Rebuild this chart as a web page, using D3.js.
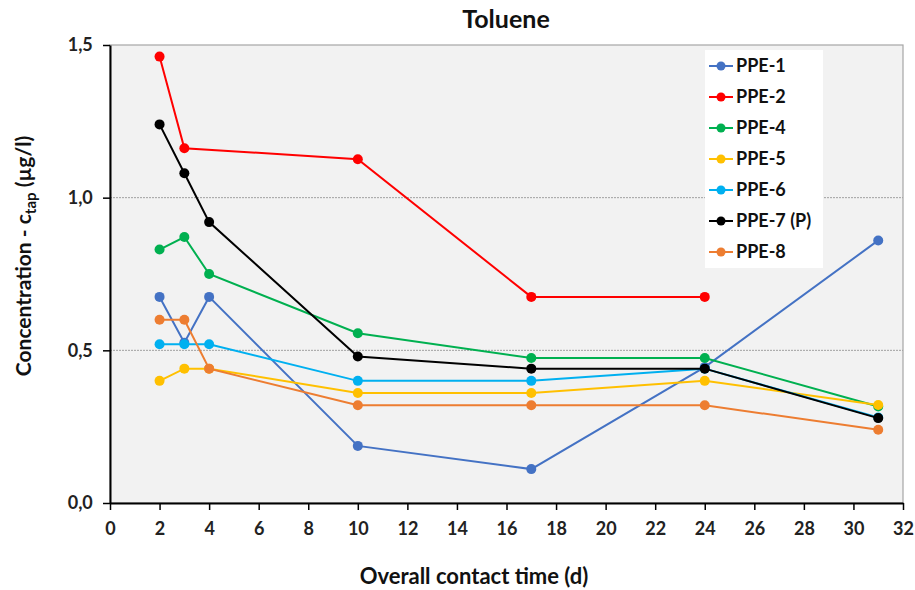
<!DOCTYPE html>
<html>
<head>
<meta charset="utf-8">
<script src="https://cdn.jsdelivr.net/npm/d3@7"></script>
<style>
  body { margin: 0; background: #fff; }
  text { font-family: Lato, "Open Sans", sans-serif; }
</style>
</head>
<body>
<div id="chart"></div>
<script>
// data
const days = [2, 3, 4, 10, 17, 24, 31];
const seriesNames = ["PPE-1", "PPE-2", "PPE-4", "PPE-5", "PPE-6", "PPE-7 (P)", "PPE-8"];
const seriesColors = ["#4472C4", "#FF0000", "#00B050", "#FFC000", "#00B0F0", "#000000", "#ED7D31"];
const ppe1 = [0.675, 0.525, 0.675, 0.187, 0.111, 0.445, 0.86];
const ppe2 = [1.462, 1.162, null, 1.126, 0.675, 0.675, null];
const ppe4 = [0.83, 0.871, 0.75, 0.556, 0.475, 0.475, 0.316];
const ppe5 = [0.40, 0.44, 0.44, 0.36, 0.36, 0.40, 0.321];
const ppe6 = [0.52, 0.52, 0.52, 0.40, 0.40, 0.44, 0.28];
const ppe7 = [1.24, 1.08, 0.92, 0.48, 0.44, 0.44, 0.278];
const ppe8 = [0.60, 0.60, 0.44, 0.32, 0.32, 0.32, 0.24];
const seriesValues = [ppe1, ppe2, ppe4, ppe5, ppe6, ppe7, ppe8];
const xTicks = d3.range(0, 33, 2);
const yTicks = [0, 0.5, 1.0, 1.5];

const width = 915, height = 590;
const margin = { top: 45, right: 12, bottom: 87, left: 110 };
const w = width - margin.left - margin.right;
const h = height - margin.top - margin.bottom;

const svg = d3.select("#chart").append("svg")
    .attr("width", width)
    .attr("height", height);

const g = svg.append("g")
    .attr("transform", `translate(${margin.left}, ${margin.top})`);

const x = d3.scaleLinear().domain([0, 32]).range([0, w]);
const y = d3.scaleLinear().domain([0, 1.5]).range([h, 0]);

// plot background + border
g.append("rect")
    .attr("width", w).attr("height", h)
    .attr("fill", "#f2f2f2")
    .attr("stroke", "#a6a6a6")
    .attr("stroke-width", 1.2);

// gridlines
g.selectAll(".grid")
    .data([0.5, 1.0])
    .enter().append("line")
    .attr("x1", 0).attr("x2", w)
    .attr("y1", d => y(d)).attr("y2", d => y(d))
    .attr("stroke", "#a0a0a0")
    .attr("stroke-width", 1)
    .attr("stroke-dasharray", "2,1");

// axes
const xAxis = d3.axisBottom(x).tickValues(xTicks).tickSize(7).tickSizeOuter(0);
const yAxis = d3.axisLeft(y).tickValues(yTicks).tickSize(7).tickSizeOuter(0)
    .tickFormat(d => d3.format(".1f")(d).replace(".", ","));

const xg = g.append("g").attr("transform", `translate(0, ${h})`).call(xAxis);
const yg = g.append("g").call(yAxis);

[xg, yg].forEach(a => {
    a.select(".domain").attr("stroke", "#000").attr("stroke-width", 2);
    a.selectAll(".tick line").attr("stroke", "#000").attr("stroke-width", 1.5);
    a.selectAll(".tick text")
        .attr("fill", "#222")
        .style("font-size", "18px")
        .style("font-weight", "700");
});
xg.selectAll(".tick text").attr("dy", "1.2em");
yg.selectAll(".tick text").attr("dx", "-0.4em");

// lines and points (gaps are skipped, not broken)
const line = d3.line()
    .x(d => x(d[0]))
    .y(d => y(d[1]));

seriesValues.forEach((vals, i) => {
    const pts = days.map((d, j) => [d, vals[j]]).filter(p => p[1] !== null);
    g.append("path")
        .datum(pts)
        .attr("fill", "none")
        .attr("stroke", seriesColors[i])
        .attr("stroke-width", 2)
        .attr("d", line);
    g.selectAll(".pt" + i)
        .data(pts)
        .enter().append("circle")
        .attr("cx", p => x(p[0]))
        .attr("cy", p => y(p[1]))
        .attr("r", 5)
        .attr("fill", seriesColors[i]);
});

// legend
const legend = svg.append("g").attr("transform", "translate(705, 50)");
legend.append("rect")
    .attr("width", 118).attr("height", 218)
    .attr("fill", "#fff");
seriesNames.forEach((name, i) => {
    const ly = 16 + i * 31;
    legend.append("line")
        .attr("x1", 4).attr("x2", 28)
        .attr("y1", ly).attr("y2", ly)
        .attr("stroke", seriesColors[i]).attr("stroke-width", 2);
    legend.append("circle")
        .attr("cx", 16).attr("cy", ly).attr("r", 4.5)
        .attr("fill", seriesColors[i]);
    legend.append("text")
        .attr("x", 31).attr("y", ly)
        .attr("dy", "0.35em")
        .style("font-size", "18px")
        .style("font-weight", "700")
        .attr("fill", "#111")
        .text(name);
});

// title
svg.append("text")
    .attr("x", 506).attr("y", 28)
    .attr("text-anchor", "middle")
    .style("font-size", "25px")
    .style("font-weight", "700")
    .attr("fill", "#111")
    .text("Toluene");

// x label
svg.append("text")
    .attr("x", 474).attr("y", 584)
    .attr("text-anchor", "middle")
    .style("font-size", "22px")
    .style("font-weight", "700")
    .attr("fill", "#111")
    .text("Overall contact time (d)");

// y label with subscript
const yl = svg.append("text")
    .attr("transform", `translate(31, 256) rotate(-90)`)
    .attr("text-anchor", "middle")
    .style("font-size", "21px")
    .style("font-weight", "700")
    .attr("fill", "#111");
yl.append("tspan").text("Concentration - c");
yl.append("tspan").attr("dy", 5).style("font-size", "15px").text("tap");
yl.append("tspan").attr("dy", -5).text(" (µg/l)");
</script>
</body>
</html>
